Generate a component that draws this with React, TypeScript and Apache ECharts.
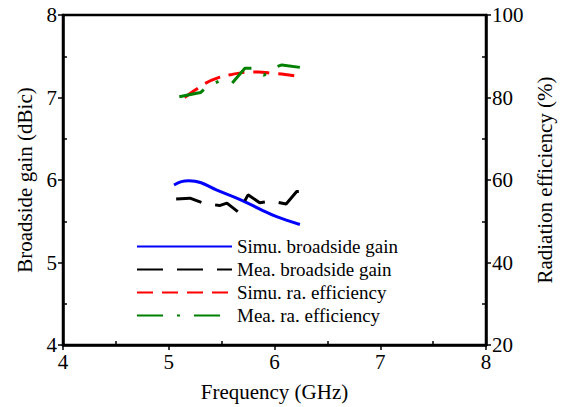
import React, { useEffect, useRef } from "react";
import * as echarts from "echarts";

// Frequency (GHz) samples for each curve
const simGainFreq = [5.05, 5.12, 5.19, 5.3, 5.45, 5.67, 5.89, 6.02, 6.24];
const simGain = [5.94, 5.98, 5.99, 5.97, 5.88, 5.765, 5.63, 5.555, 5.46];

const meaGainFreq = [5.07, 5.2, 5.33, 5.48, 5.55, 5.66, 5.75, 5.86, 5.97, 6.11, 6.21, 6.27];
const meaGain = [5.77, 5.78, 5.72, 5.69, 5.72, 5.61, 5.82, 5.725, 5.745, 5.71, 5.86, 5.86];

const simEffFreq = [5.15, 5.25, 5.35, 5.47, 5.58, 5.72, 5.85, 5.96, 6.1, 6.24];
const simEff = [80.0, 81.8, 83.5, 84.8, 85.5, 86.1, 86.2, 85.9, 85.6, 85.0];

const meaEffFreq = [5.1, 5.3, 5.36, 5.48, 5.6, 5.72, 5.8, 5.9, 6.0, 6.07, 6.24];
const meaEff = [80.2, 81.2, 82.6, 84.0, 83.5, 87.1, 87.1, 85.4, 87.3, 87.9, 87.3];

const seriesNames = [
  "Simu. broadside gain",
  "Mea. broadside gain",
  "Simu. ra. efficiency",
  "Mea. ra. efficiency",
];

const FONT = "Liberation Serif";

const pairs = (xs: number[], ys: number[]) => xs.map((x, i) => [x, ys[i]]);

export default function App() {
  const ref = useRef<HTMLDivElement>(null);

  useEffect(() => {
    if (!ref.current) return;
    document.body.style.margin = "0";
    const chart = echarts.init(ref.current, null, { renderer: "svg" });
    const axisLine = { show: true, lineStyle: { color: "#000", width: 2.5 } };
    const tickLine = { width: 1.5, color: "#000" };
    const minorAxis = (customValues: number[]) => ({
      axisLine: { show: false },
      axisTick: { show: true, inside: true, length: 4, customValues, lineStyle: tickLine },
      axisLabel: { show: false },
      splitLine: { show: false },
    });

    chart.setOption({
      animation: false,
      backgroundColor: "#fff",
      textStyle: { fontFamily: FONT, fontSize: 21, color: "#000" },
      grid: {
        left: 63,
        right: 79,
        top: 15,
        bottom: 55,
        show: true,
        borderColor: "#000",
        borderWidth: 2.5,
        backgroundColor: "transparent",
      },
      legend: {
        orient: "vertical",
        left: 131,
        top: 232,
        itemWidth: 95,
        itemHeight: 12,
        itemGap: 4,
        data: seriesNames,
        itemStyle: { opacity: 0 },
        textStyle: { fontFamily: FONT, fontSize: 19, color: "#000" },
      },
      xAxis: [
        {
          type: "value",
          min: 4,
          max: 8,
          interval: 1,
          position: "bottom",
          name: "Frequency (GHz)",
          nameLocation: "middle",
          nameGap: 36,
          nameTextStyle: { fontFamily: FONT, fontSize: 21, color: "#000" },
          axisLine,
          axisTick: { show: true, inside: false, length: 5, lineStyle: tickLine },
          axisLabel: { fontFamily: FONT, fontSize: 21, color: "#000", margin: 6 },
          splitLine: { show: false },
        },
        { type: "value", min: 4, max: 8, position: "bottom", ...minorAxis([4.5, 5.5, 6.5, 7.5]) },
      ],
      yAxis: [
        {
          type: "value",
          min: 4,
          max: 8,
          interval: 1,
          position: "left",
          name: "Broadside gain (dBic)",
          nameLocation: "middle",
          nameGap: 25,
          nameTextStyle: { fontFamily: FONT, fontSize: 21, color: "#000" },
          axisLine,
          axisTick: { show: true, inside: false, length: 5, lineStyle: tickLine },
          axisLabel: { fontFamily: FONT, fontSize: 21, color: "#000", margin: 6 },
          splitLine: { show: false },
        },
        {
          type: "value",
          min: 20,
          max: 100,
          interval: 20,
          position: "right",
          name: "Radiation efficiency (%)",
          nameLocation: "middle",
          nameGap: 38,
          nameRotate: 90,
          nameTextStyle: { fontFamily: FONT, fontSize: 21, color: "#000" },
          axisLine,
          axisTick: { show: true, inside: false, length: 5, lineStyle: tickLine },
          axisLabel: { fontFamily: FONT, fontSize: 21, color: "#000", margin: 6 },
          splitLine: { show: false },
        },
        { type: "value", min: 4, max: 8, position: "left", ...minorAxis([4.5, 5.5, 6.5, 7.5]) },
        { type: "value", min: 20, max: 100, position: "right", ...minorAxis([30, 50, 70, 90]) },
      ],
      series: [
        {
          name: seriesNames[0],
          type: "line",
          smooth: 0.4,
          symbol: "none",
          yAxisIndex: 0,
          color: "#0000ff",
          lineStyle: { color: "#0000ff", width: 3, type: "solid" },
          data: pairs(simGainFreq, simGain),
        },
        {
          name: seriesNames[1],
          type: "line",
          symbol: "none",
          yAxisIndex: 0,
          color: "#000000",
          lineStyle: { color: "#000000", width: 3, type: [26, 14] },
          data: pairs(meaGainFreq, meaGain),
        },
        {
          name: seriesNames[2],
          type: "line",
          smooth: 0.4,
          symbol: "none",
          yAxisIndex: 1,
          color: "#ff0000",
          lineStyle: { color: "#ff0000", width: 3, type: [16, 9] },
          data: pairs(simEffFreq, simEff),
        },
        {
          name: seriesNames[3],
          type: "line",
          symbol: "none",
          yAxisIndex: 1,
          color: "#008000",
          lineStyle: { color: "#008000", width: 3, type: [26, 14, 3, 14] },
          data: pairs(meaEffFreq, meaEff),
        },
      ],
    });

    return () => chart.dispose();
  }, []);

  return <div ref={ref} style={{ width: 565, height: 407 }} />;
}
